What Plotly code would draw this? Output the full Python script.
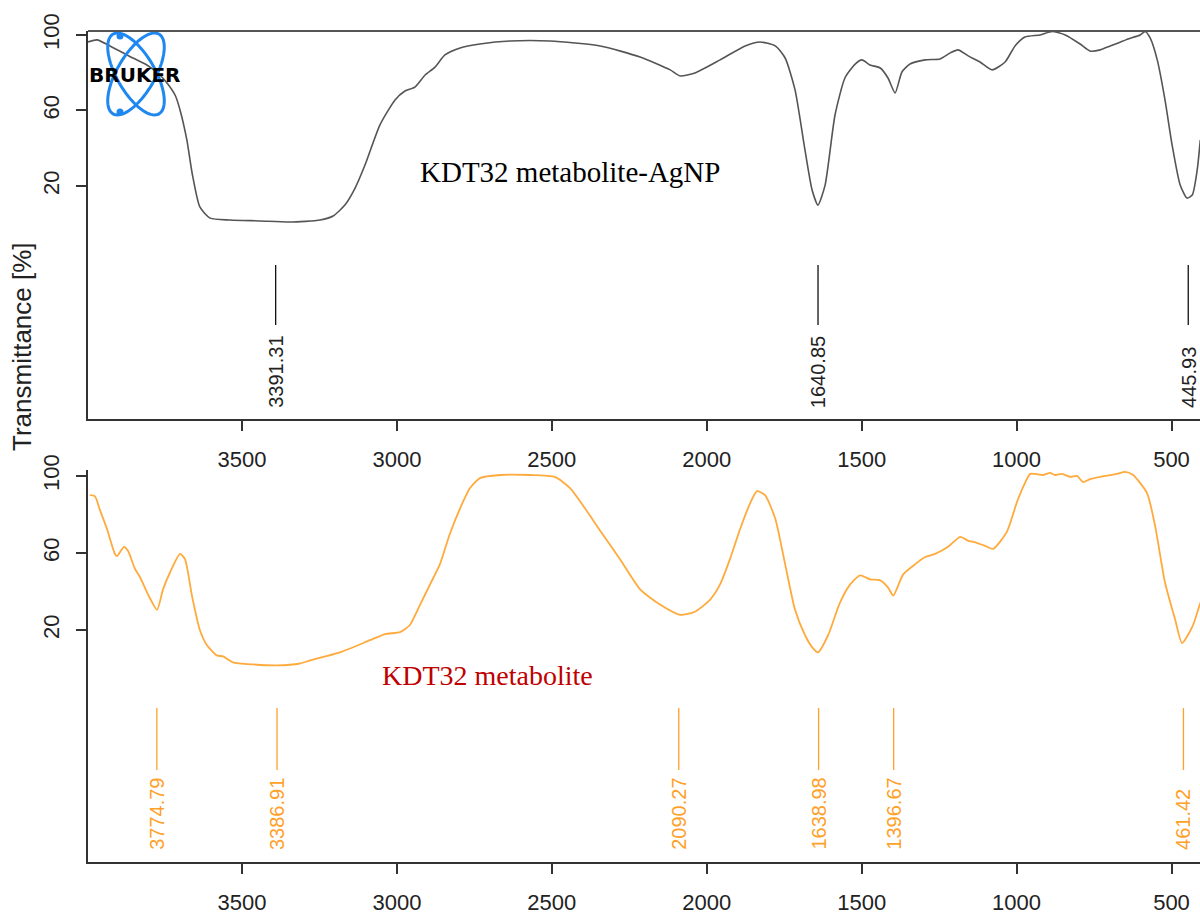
import numpy as np
import plotly.graph_objects as go

# ---- FTIR spectra (wavenumber cm-1, transmittance %) ----
agnp_wn = [3997, 3968, 3926, 3852, 3807, 3765, 3742, 3716, 3700, 3678, 3661, 3636, 3603,
           3539, 3442, 3345, 3248, 3206, 3168, 3135, 3103, 3055, 3006, 2974, 2942, 2909,
           2877, 2845, 2796, 2732, 2635, 2506, 2344, 2215, 2118, 2086, 2038, 1957, 1876,
           1828, 1779, 1747, 1715, 1683, 1660, 1641, 1618, 1586, 1554, 1521, 1499, 1473,
           1440, 1415, 1392, 1370, 1344, 1295, 1247, 1214, 1189, 1156, 1118, 1079, 1037,
           1005, 973, 924, 885, 843, 795, 763, 730, 698, 672, 640, 601, 585, 569, 546,
           521, 498, 472, 450, 433, 417, 407]
agnp_t = [96.3, 97.4, 94.2, 87.8, 84.1, 78.8, 74.6, 68.2, 60.3, 44.4, 26.9, 8.9, 3.0,
          2.0, 1.5, 0.9, 2.0, 4.1, 9.9, 18.9, 31.1, 52.3, 65.6, 70.3, 72.4, 78.8,
          83.0, 89.4, 93.1, 95.2, 96.8, 96.8, 94.2, 88.3, 81.5, 78.3, 79.9, 86.8, 94.2,
          96.3, 94.2, 87.8, 70.9, 39.1, 17.9, 9.9, 20.5, 57.6, 77.2, 84.6, 86.8, 84.1,
          82.5, 77.2, 69.3, 80.4, 84.6, 86.8, 87.3, 90.5, 92.1, 88.9, 85.7, 81.5, 85.7,
          94.2, 98.9, 100.0, 101.8, 100.0, 95.2, 91.5, 92.1, 94.2, 95.8, 97.9, 100.0, 101.8, 98.4, 86.8,
          65.6, 41.7, 20.5, 13.6, 15.2, 28.5, 44.4]

metab_wn = [3991, 3975, 3958, 3936, 3910, 3903, 3881, 3868, 3845, 3829, 3803, 3774, 3755,
            3732, 3700, 3684, 3661, 3636, 3613, 3581, 3561, 3529, 3464, 3387, 3313, 3280,
            3184, 3087, 3038, 2990, 2958, 2925, 2893, 2861, 2829, 2796, 2764, 2732, 2667,
            2570, 2490, 2441, 2393, 2344, 2280, 2215, 2151, 2086, 2038, 1989, 1957, 1925,
            1892, 1860, 1838, 1812, 1779, 1747, 1715, 1683, 1660, 1641, 1608, 1570, 1537,
            1505, 1473, 1440, 1415, 1398, 1366, 1327, 1295, 1263, 1221, 1182, 1156, 1140,
            1101, 1076, 1031, 998, 973, 956, 914, 892, 876, 853, 827, 805, 785, 763, 676,
            650, 624, 579, 553, 521, 488, 466, 433, 407]
metab_t = [90.0, 89.5, 82.1, 72.6, 59.5, 58.4, 63.2, 61.1, 51.6, 47.4, 38.4, 30.5, 41.1,
           50.0, 59.5, 56.8, 37.4, 20.0, 12.1, 6.8, 6.3, 3.2, 2.1, 1.6, 2.6, 4.2,
           8.4, 14.7, 17.9, 18.9, 22.6, 33.2, 43.7, 54.2, 70.0, 83.2, 93.7, 98.9, 100.5,
           100.5, 99.5, 93.7, 83.2, 71.6, 56.8, 41.1, 33.2, 27.9, 29.5, 35.8, 43.7, 56.8,
           72.6, 85.8, 92.1, 90.0, 77.9, 54.2, 30.5, 17.4, 11.1, 8.4, 17.4, 34.2, 43.7,
           48.4, 46.3, 45.8, 42.1, 37.9, 48.9, 54.2, 57.9, 59.5, 63.2, 68.4, 66.3, 65.8,
           63.7, 62.1, 71.1, 86.8, 96.3, 101.1, 100.5, 101.6, 100.5, 101.1, 99.5, 100.0, 96.8, 98.4, 101.1,
           102.1, 100.5, 91.1, 74.2, 44.7, 25.3, 13.2, 21.6, 34.2]

agnp_peaks = [3391.31, 1640.85, 445.93]
metab_peaks = [3774.79, 3386.91, 2090.27, 1638.98, 1396.67, 461.42]

x_ticks = [3500, 3000, 2500, 2000, 1500, 1000, 500]
y_ticks = [20, 60, 100]

GREY = "#555555"
ORANGE = "#FFAA3C"
PEAK_ORANGE = "#FFA028"
AXIS = "#333333"
SANS = "Liberation Sans, Arial"
SERIF = "Liberation Serif, Times New Roman, serif"

W, H, LEFT = 1200, 917, 88


def px(xp):
    return (xp - LEFT) / (W - LEFT)


def py(yp):
    return 1 - yp / H


fig = go.Figure()

fig.add_trace(go.Scatter(x=agnp_wn, y=agnp_t, mode="lines",
                         line=dict(color=GREY, width=1.6, shape="spline", smoothing=0.6),
                         xaxis="x", yaxis="y", hoverinfo="skip"))
fig.add_trace(go.Scatter(x=metab_wn, y=metab_t, mode="lines",
                         line=dict(color=ORANGE, width=1.8, shape="spline", smoothing=0.6),
                         xaxis="x2", yaxis="y2", hoverinfo="skip"))


def stems(peaks, y0, y1):
    xs, ys = [], []
    for p in peaks:
        xs += [p, p, None]
        ys += [y0, y1, None]
    return xs, ys


sx, sy = stems(agnp_peaks, -21.9, -53.6)
fig.add_trace(go.Scatter(x=sx, y=sy, mode="lines", line=dict(color="#111111", width=1.3),
                         xaxis="x", yaxis="y", hoverinfo="skip"))
sx, sy = stems(metab_peaks, -20.5, -52.7)
fig.add_trace(go.Scatter(x=sx, y=sy, mode="lines", line=dict(color=PEAK_ORANGE, width=1.3),
                         xaxis="x2", yaxis="y2", hoverinfo="skip"))

annotations = []
for p in agnp_peaks:
    annotations.append(dict(x=p, y=-98.7, xref="x", yref="y", text=f"{p:.2f}",
                            textangle=-90, showarrow=False, xanchor="center", yanchor="bottom",
                            font=dict(family=SANS, size=20, color="#222222")))
for p in metab_peaks:
    annotations.append(dict(x=p, y=-95.3, xref="x2", yref="y2", text=f"{p:.2f}",
                            textangle=-90, showarrow=False, xanchor="center", yanchor="bottom",
                            font=dict(family=SANS, size=20, color=PEAK_ORANGE)))

annotations.append(dict(x=px(570), y=py(172), xref="paper", yref="paper",
                        xanchor="center", yanchor="middle",
                        text="KDT32 metabolite-AgNP", showarrow=False,
                        font=dict(family=SERIF, size=29, color="black")))
annotations.append(dict(x=px(487), y=py(675), xref="paper", yref="paper",
                        xanchor="center", yanchor="middle",
                        text="KDT32 metabolite", showarrow=False,
                        font=dict(family=SERIF, size=28, color="#C00000")))
annotations.append(dict(x=px(22), y=py(347), xref="paper", yref="paper",
                        xanchor="center", yanchor="middle",
                        text="Transmittance [%]", textangle=-90, showarrow=False,
                        font=dict(family=SANS, size=26, color="#222222")))

# Bruker logo: two crossed orbit ellipses, two dots and the wordmark
shapes = []
cx, cy = 136, 74
t = np.linspace(0, 2 * np.pi, 80)
for ang in (30, -30):
    a, b = 46, 19
    th = np.radians(ang)
    ex = a * np.cos(t) * np.sin(th) + b * np.sin(t) * np.cos(th)
    ey = a * np.cos(t) * np.cos(th) - b * np.sin(t) * np.sin(th)
    pts = [f"{px(cx + u):.5f},{py(cy + v):.5f}" for u, v in zip(ex, ey)]
    shapes.append(dict(type="path", xref="paper", yref="paper",
                       path="M" + " L".join(pts) + " Z",
                       line=dict(color="#1E88F0", width=3), layer="above"))
for dx, dy in ((120, 36), (120, 112)):
    shapes.append(dict(type="circle", xref="paper", yref="paper",
                       x0=px(dx - 3.5), x1=px(dx + 3.5), y0=py(dy + 3.5), y1=py(dy - 3.5),
                       fillcolor="#1E88F0", line=dict(width=0), layer="above"))
annotations.append(dict(x=px(134), y=py(75), xref="paper", yref="paper",
                        xanchor="center", yanchor="middle",
                        text="<b>BRUKER</b>", showarrow=False,
                        font=dict(family="DejaVu Sans", size=20, color="black")))

# top rule of the upper panel
shapes.append(dict(type="line", xref="paper", yref="paper", x0=0, x1=1,
                   y0=py(31), y1=py(31), line=dict(color=GREY, width=2.2), layer="above"))

axis_common = dict(showgrid=False, zeroline=False, showline=True, linecolor=AXIS, linewidth=1.5,
                   ticks="outside", ticklen=10, tickwidth=1.5, tickcolor=AXIS, automargin=False,
                   tickfont=dict(family=SANS, size=22, color="#222222"))

xr = [3997, 408]
fig.update_layout(
    width=W, height=H,
    margin=dict(l=LEFT, r=0, t=0, b=0, pad=0),
    paper_bgcolor="white", plot_bgcolor="white",
    showlegend=False,
    xaxis=dict(domain=[0, 1], range=xr, anchor="y", tickvals=x_ticks,
               ticklabelstandoff=10, **axis_common),
    yaxis=dict(domain=[py(419), py(31)], range=[-103.4, 102.1], anchor="x",
               tickvals=y_ticks, tickangle=-90, ticklabelstandoff=8, **axis_common),
    xaxis2=dict(domain=[0, 1], range=xr, anchor="y2", tickvals=x_ticks,
                ticklabelstandoff=10, **axis_common),
    yaxis2=dict(domain=[py(862), py(470)], range=[-100.5, 103.1], anchor="x2",
                tickvals=y_ticks, tickangle=-90, ticklabelstandoff=8, **axis_common),
    annotations=annotations,
    shapes=shapes,
)

fig.write_html("out.html")
